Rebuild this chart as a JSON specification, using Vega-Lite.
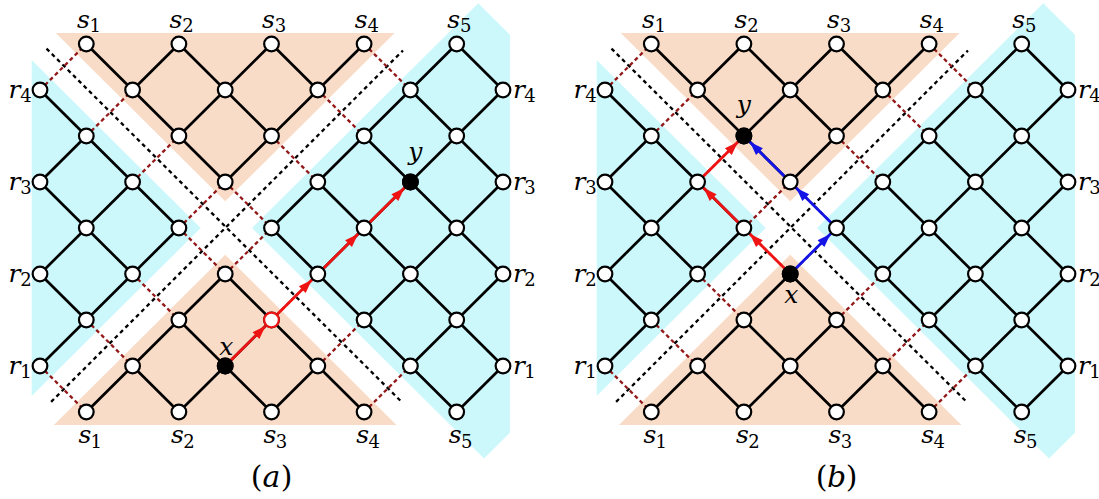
{
  "$schema": "https://vega.github.io/schema/vega-lite/v6.json",
  "padding": 0,
  "spacing": 31,
  "bounds": "flush",
  "background": "white",
  "config": {"view": {"stroke": null}, "axis": {"disable": true}},
  "datasets": {
    "regions": [
      {"region": "top", "zone": "peach", "c": 0.34, "r": -0.24, "r2": -0.24},
      {"region": "top", "zone": "peach", "c": 4, "r": -0.24, "r2": 3.42},
      {"region": "top", "zone": "peach", "c": 7.66, "r": -0.24, "r2": -0.24},
      {"region": "bottom", "zone": "peach", "c": 0.3, "r": 8.28, "r2": 8.28},
      {"region": "bottom", "zone": "peach", "c": 4, "r": 4.58, "r2": 8.28},
      {"region": "bottom", "zone": "peach", "c": 7.7, "r": 8.28, "r2": 8.28},
      {"region": "left", "zone": "cyan", "c": -0.18, "r": 0.35, "r2": 7.65},
      {"region": "left", "zone": "cyan", "c": 3.47, "r": 4, "r2": 4},
      {"region": "right", "zone": "cyan", "c": 4.58, "r": 4, "r2": 4},
      {"region": "right", "zone": "cyan", "c": 9.465, "r": -0.885, "r2": 8.885},
      {"region": "right", "zone": "cyan", "c": 9.59, "r": -0.76, "r2": 9.01},
      {"region": "right", "zone": "cyan", "c": 10.15, "r": -0.2, "r2": 8.45}
    ],
    "guides": [
      {"c": 0.14, "r": 0.1, "c2": 7.83, "r2": 7.8},
      {"c": 0.24, "r": 7.78, "c2": 7.84, "r2": 0.14}
    ],
    "edges": [
      {"kind": "dashed", "c": 0, "r": 7, "c2": 1, "r2": 8},
      {"kind": "dashed", "c": 1, "r": 6, "c2": 2, "r2": 7},
      {"kind": "dashed", "c": 2, "r": 5, "c2": 3, "r2": 6},
      {"kind": "dashed", "c": 3, "r": 4, "c2": 4, "r2": 5},
      {"kind": "dashed", "c": 4, "r": 3, "c2": 5, "r2": 4},
      {"kind": "dashed", "c": 5, "r": 2, "c2": 6, "r2": 3},
      {"kind": "dashed", "c": 6, "r": 1, "c2": 7, "r2": 2},
      {"kind": "dashed", "c": 7, "r": 0, "c2": 8, "r2": 1},
      {"kind": "dashed", "c": 0, "r": 1, "c2": 1, "r2": 0},
      {"kind": "dashed", "c": 1, "r": 2, "c2": 2, "r2": 1},
      {"kind": "dashed", "c": 2, "r": 3, "c2": 3, "r2": 2},
      {"kind": "dashed", "c": 3, "r": 4, "c2": 4, "r2": 3},
      {"kind": "dashed", "c": 4, "r": 5, "c2": 5, "r2": 4},
      {"kind": "dashed", "c": 5, "r": 6, "c2": 6, "r2": 5},
      {"kind": "dashed", "c": 6, "r": 7, "c2": 7, "r2": 6},
      {"kind": "dashed", "c": 7, "r": 8, "c2": 8, "r2": 7},
      {"kind": "solid", "c": 0, "r": 5, "c2": 1, "r2": 6},
      {"kind": "solid", "c": 2, "r": 7, "c2": 3, "r2": 8},
      {"kind": "solid", "c": 0, "r": 3, "c2": 2, "r2": 5},
      {"kind": "solid", "c": 3, "r": 6, "c2": 5, "r2": 8},
      {"kind": "solid", "c": 0, "r": 1, "c2": 3, "r2": 4},
      {"kind": "solid", "c": 4, "r": 5, "c2": 7, "r2": 8},
      {"kind": "solid", "c": 1, "r": 0, "c2": 4, "r2": 3},
      {"kind": "solid", "c": 5, "r": 4, "c2": 9, "r2": 8},
      {"kind": "solid", "c": 3, "r": 0, "c2": 5, "r2": 2},
      {"kind": "solid", "c": 6, "r": 3, "c2": 10, "r2": 7},
      {"kind": "solid", "c": 5, "r": 0, "c2": 6, "r2": 1},
      {"kind": "solid", "c": 7, "r": 2, "c2": 10, "r2": 5},
      {"kind": "solid", "c": 8, "r": 1, "c2": 10, "r2": 3},
      {"kind": "solid", "c": 9, "r": 0, "c2": 10, "r2": 1},
      {"kind": "solid", "c": 0, "r": 3, "c2": 1, "r2": 2},
      {"kind": "solid", "c": 2, "r": 1, "c2": 3, "r2": 0},
      {"kind": "solid", "c": 0, "r": 5, "c2": 2, "r2": 3},
      {"kind": "solid", "c": 3, "r": 2, "c2": 5, "r2": 0},
      {"kind": "solid", "c": 0, "r": 7, "c2": 3, "r2": 4},
      {"kind": "solid", "c": 4, "r": 3, "c2": 7, "r2": 0},
      {"kind": "solid", "c": 1, "r": 8, "c2": 4, "r2": 5},
      {"kind": "solid", "c": 5, "r": 4, "c2": 9, "r2": 0},
      {"kind": "solid", "c": 3, "r": 8, "c2": 5, "r2": 6},
      {"kind": "solid", "c": 6, "r": 5, "c2": 10, "r2": 1},
      {"kind": "solid", "c": 5, "r": 8, "c2": 6, "r2": 7},
      {"kind": "solid", "c": 7, "r": 6, "c2": 10, "r2": 3},
      {"kind": "solid", "c": 8, "r": 7, "c2": 10, "r2": 5},
      {"kind": "solid", "c": 9, "r": 8, "c2": 10, "r2": 7}
    ],
    "nodes": [
      {"c": 1, "r": 0}, {"c": 3, "r": 0}, {"c": 5, "r": 0}, {"c": 7, "r": 0}, {"c": 9, "r": 0},
      {"c": 0, "r": 1}, {"c": 2, "r": 1}, {"c": 4, "r": 1}, {"c": 6, "r": 1}, {"c": 8, "r": 1}, {"c": 10, "r": 1},
      {"c": 1, "r": 2}, {"c": 3, "r": 2}, {"c": 5, "r": 2}, {"c": 7, "r": 2}, {"c": 9, "r": 2},
      {"c": 0, "r": 3}, {"c": 2, "r": 3}, {"c": 4, "r": 3}, {"c": 6, "r": 3}, {"c": 8, "r": 3}, {"c": 10, "r": 3},
      {"c": 1, "r": 4}, {"c": 3, "r": 4}, {"c": 5, "r": 4}, {"c": 7, "r": 4}, {"c": 9, "r": 4},
      {"c": 0, "r": 5}, {"c": 2, "r": 5}, {"c": 4, "r": 5}, {"c": 6, "r": 5}, {"c": 8, "r": 5}, {"c": 10, "r": 5},
      {"c": 1, "r": 6}, {"c": 3, "r": 6}, {"c": 5, "r": 6}, {"c": 7, "r": 6}, {"c": 9, "r": 6},
      {"c": 0, "r": 7}, {"c": 2, "r": 7}, {"c": 4, "r": 7}, {"c": 6, "r": 7}, {"c": 8, "r": 7}, {"c": 10, "r": 7},
      {"c": 1, "r": 8}, {"c": 3, "r": 8}, {"c": 5, "r": 8}, {"c": 7, "r": 8}, {"c": 9, "r": 8}
    ],
    "slabels": [
      {"side": "top", "letter": "s", "sub": "1", "c": 1, "r": 0},
      {"side": "top", "letter": "s", "sub": "2", "c": 3, "r": 0},
      {"side": "top", "letter": "s", "sub": "3", "c": 5, "r": 0},
      {"side": "top", "letter": "s", "sub": "4", "c": 7, "r": 0},
      {"side": "top", "letter": "s", "sub": "5", "c": 9, "r": 0},
      {"side": "bottom", "letter": "s", "sub": "1", "c": 1, "r": 8},
      {"side": "bottom", "letter": "s", "sub": "2", "c": 3, "r": 8},
      {"side": "bottom", "letter": "s", "sub": "3", "c": 5, "r": 8},
      {"side": "bottom", "letter": "s", "sub": "4", "c": 7, "r": 8},
      {"side": "bottom", "letter": "s", "sub": "5", "c": 9, "r": 8},
      {"side": "left", "letter": "r", "sub": "4", "c": 0, "r": 1},
      {"side": "left", "letter": "r", "sub": "3", "c": 0, "r": 3},
      {"side": "left", "letter": "r", "sub": "2", "c": 0, "r": 5},
      {"side": "left", "letter": "r", "sub": "1", "c": 0, "r": 7},
      {"side": "right", "letter": "r", "sub": "4", "c": 10, "r": 1},
      {"side": "right", "letter": "r", "sub": "3", "c": 10, "r": 3},
      {"side": "right", "letter": "r", "sub": "2", "c": 10, "r": 5},
      {"side": "right", "letter": "r", "sub": "1", "c": 10, "r": 7}
    ],
    "paths": [
      {"panel": "a", "color": "red", "dir": "ur", "c": 4, "r": 7, "c2": 5, "r2": 6},
      {"panel": "a", "color": "red", "dir": "ur", "c": 5, "r": 6, "c2": 6, "r2": 5},
      {"panel": "a", "color": "red", "dir": "ur", "c": 6, "r": 5, "c2": 7, "r2": 4},
      {"panel": "a", "color": "red", "dir": "ur", "c": 7, "r": 4, "c2": 8, "r2": 3},
      {"panel": "b", "color": "red", "dir": "ul", "c": 4, "r": 5, "c2": 3, "r2": 4},
      {"panel": "b", "color": "red", "dir": "ul", "c": 3, "r": 4, "c2": 2, "r2": 3},
      {"panel": "b", "color": "red", "dir": "ur", "c": 2, "r": 3, "c2": 3, "r2": 2},
      {"panel": "b", "color": "blue", "dir": "ur", "c": 4, "r": 5, "c2": 5, "r2": 4},
      {"panel": "b", "color": "blue", "dir": "ul", "c": 5, "r": 4, "c2": 4, "r2": 3},
      {"panel": "b", "color": "blue", "dir": "ul", "c": 4, "r": 3, "c2": 3, "r2": 2}
    ],
    "special": [
      {"panel": "a", "kind": "black", "c": 4, "r": 7},
      {"panel": "a", "kind": "black", "c": 8, "r": 3},
      {"panel": "a", "kind": "ring", "c": 5, "r": 6},
      {"panel": "b", "kind": "black", "c": 4, "r": 5},
      {"panel": "b", "kind": "black", "c": 3, "r": 2}
    ],
    "names": [
      {"panel": "a", "text": "x", "c": 4, "r": 7},
      {"panel": "a", "text": "y", "c": 8, "r": 3},
      {"panel": "b", "text": "x", "c": 4, "r": 5},
      {"panel": "b", "text": "y", "c": 3, "r": 2}
    ],
    "captions": [
      {"panel": "a", "open": "(", "letter": "a", "close": ")", "c": 5, "r": 8},
      {"panel": "b", "open": "(", "letter": "b", "close": ")", "c": 5, "r": 8}
    ]
  },
  "hconcat": [
    {
      "width": 534, "height": 499,
      "encoding": {
        "x": {"field": "c", "type": "quantitative", "axis": null, "scale": {"domain": [-0.86393, 10.66955], "nice": false, "zero": false}},
        "y": {"field": "r", "type": "quantitative", "axis": null, "scale": {"domain": [-0.95652, 9.8913], "nice": false, "zero": false, "reverse": true}}
      },
      "layer": [
        {"data": {"name": "regions"}, "transform": [{"filter": "datum.zone === 'peach'"}],
         "mark": {"type": "area", "interpolate": "linear", "color": "#f9dcc8", "opacity": 1},
         "encoding": {"y": {"field": "r", "type": "quantitative", "axis": null, "stack": null, "scale": {"domain": [-0.95652, 9.8913], "nice": false, "zero": false, "reverse": true}}, "y2": {"field": "r2"}, "detail": {"field": "region", "type": "nominal"}}},
        {"data": {"name": "regions"}, "transform": [{"filter": "datum.zone === 'cyan'"}],
         "mark": {"type": "area", "interpolate": "linear", "color": "#cdf8fb", "opacity": 1},
         "encoding": {"y": {"field": "r", "type": "quantitative", "axis": null, "stack": null, "scale": {"domain": [-0.95652, 9.8913], "nice": false, "zero": false, "reverse": true}}, "y2": {"field": "r2"}, "detail": {"field": "region", "type": "nominal"}}},
        {"data": {"name": "guides"}, "mark": {"type": "rule", "color": "#000000", "strokeWidth": 2.3, "strokeDash": [4, 3.5]},
         "encoding": {"x2": {"field": "c2"}, "y2": {"field": "r2"}}},
        {"data": {"name": "edges"}, "transform": [{"filter": "datum.kind === 'dashed'"}],
         "mark": {"type": "rule", "color": "#931818", "strokeWidth": 2.3, "strokeDash": [4, 3]},
         "encoding": {"x2": {"field": "c2"}, "y2": {"field": "r2"}}},
        {"data": {"name": "edges"}, "transform": [{"filter": "datum.kind === 'solid'"}],
         "mark": {"type": "rule", "color": "#000000", "strokeWidth": 2.7},
         "encoding": {"x2": {"field": "c2"}, "y2": {"field": "r2"}}},
        {"data": {"name": "paths"}, "transform": [{"filter": "datum.panel === 'a'"}],
         "mark": {"type": "rule", "strokeWidth": 2.8},
         "encoding": {"x2": {"field": "c2"}, "y2": {"field": "r2"}, "color": {"field": "color", "type": "nominal", "legend": null, "scale": {"domain": ["red", "blue"], "range": ["#ee1414", "#1414e6"]}}}},
        {"data": {"name": "nodes"},
         "mark": {"type": "point", "shape": "circle", "size": 215, "filled": true, "fill": "#ffffff", "stroke": "#000000", "strokeWidth": 2.2, "opacity": 1}},
        {"data": {"name": "special"}, "transform": [{"filter": "datum.panel === 'a' && datum.kind === 'black'"}],
         "mark": {"type": "point", "shape": "circle", "size": 215, "filled": true, "fill": "#000000", "stroke": "#000000", "strokeWidth": 2.2, "opacity": 1}},
        {"data": {"name": "special"}, "transform": [{"filter": "datum.panel === 'a' && datum.kind === 'ring'"}],
         "mark": {"type": "point", "shape": "circle", "size": 215, "filled": true, "fill": "#ffffff", "stroke": "#ee1414", "strokeWidth": 2.2, "opacity": 1}},
        {"data": {"name": "paths"}, "transform": [{"filter": "datum.panel === 'a' && datum.dir === 'ur'"}],
         "mark": {"type": "point", "shape": "M0,-1L-0.72,1L0.72,1Z", "size": 180, "angle": 45, "xOffset": -10.8, "yOffset": 10.8, "filled": true, "opacity": 1, "strokeWidth": 0},
         "encoding": {
           "x": {"field": "c2", "type": "quantitative", "axis": null, "scale": {"domain": [-0.86393, 10.66955], "nice": false, "zero": false}},
           "y": {"field": "r2", "type": "quantitative", "axis": null, "scale": {"domain": [-0.95652, 9.8913], "nice": false, "zero": false, "reverse": true}},
           "color": {"field": "color", "type": "nominal", "legend": null, "scale": {"domain": ["red", "blue"], "range": ["#ee1414", "#1414e6"]}}}},
        {"data": {"name": "slabels"}, "transform": [{"filter": "datum.side === 'top'"}],
         "mark": {"type": "text", "font": "DejaVu Serif", "fontStyle": "italic", "fontSize": 25, "align": "center", "baseline": "alphabetic", "dx": -3, "dy": -16, "color": "#000000"},
         "encoding": {"text": {"field": "letter"}}},
        {"data": {"name": "slabels"}, "transform": [{"filter": "datum.side === 'top'"}],
         "mark": {"type": "text", "font": "DejaVu Serif", "fontSize": 18, "align": "center", "baseline": "alphabetic", "dx": 9, "dy": -12, "color": "#000000"},
         "encoding": {"text": {"field": "sub"}}},
        {"data": {"name": "slabels"}, "transform": [{"filter": "datum.side === 'bottom'"}],
         "mark": {"type": "text", "font": "DejaVu Serif", "fontStyle": "italic", "fontSize": 25, "align": "center", "baseline": "alphabetic", "dx": -1.5, "dy": 31, "color": "#000000"},
         "encoding": {"text": {"field": "letter"}}},
        {"data": {"name": "slabels"}, "transform": [{"filter": "datum.side === 'bottom'"}],
         "mark": {"type": "text", "font": "DejaVu Serif", "fontSize": 18, "align": "center", "baseline": "alphabetic", "dx": 10, "dy": 36, "color": "#000000"},
         "encoding": {"text": {"field": "sub"}}},
        {"data": {"name": "slabels"}, "transform": [{"filter": "datum.side === 'left'"}],
         "mark": {"type": "text", "font": "DejaVu Serif", "fontStyle": "italic", "fontSize": 25, "align": "center", "baseline": "alphabetic", "dx": -25.5, "dy": 8, "color": "#000000"},
         "encoding": {"text": {"field": "letter"}}},
        {"data": {"name": "slabels"}, "transform": [{"filter": "datum.side === 'left'"}],
         "mark": {"type": "text", "font": "DejaVu Serif", "fontSize": 18, "align": "center", "baseline": "alphabetic", "dx": -14, "dy": 12, "color": "#000000"},
         "encoding": {"text": {"field": "sub"}}},
        {"data": {"name": "slabels"}, "transform": [{"filter": "datum.side === 'right'"}],
         "mark": {"type": "text", "font": "DejaVu Serif", "fontStyle": "italic", "fontSize": 25, "align": "center", "baseline": "alphabetic", "dx": 16, "dy": 8, "color": "#000000"},
         "encoding": {"text": {"field": "letter"}}},
        {"data": {"name": "slabels"}, "transform": [{"filter": "datum.side === 'right'"}],
         "mark": {"type": "text", "font": "DejaVu Serif", "fontSize": 18, "align": "center", "baseline": "alphabetic", "dx": 27, "dy": 12, "color": "#000000"},
         "encoding": {"text": {"field": "sub"}}},
        {"data": {"name": "names"}, "transform": [{"filter": "datum.panel === 'a' && datum.text === 'x'"}],
         "mark": {"type": "text", "font": "DejaVu Serif", "fontStyle": "italic", "fontSize": 25, "align": "center", "baseline": "alphabetic", "dx": 1, "dy": -11, "color": "#000000"},
         "encoding": {"text": {"field": "text"}}},
        {"data": {"name": "names"}, "transform": [{"filter": "datum.panel === 'a' && datum.text === 'y'"}],
         "mark": {"type": "text", "font": "DejaVu Serif", "fontStyle": "italic", "fontSize": 25, "align": "center", "baseline": "alphabetic", "dx": 5, "dy": -22, "color": "#000000"},
         "encoding": {"text": {"field": "text"}}},
        {"data": {"name": "captions"}, "transform": [{"filter": "datum.panel === 'a'"}],
         "mark": {"type": "text", "font": "DejaVu Serif", "fontSize": 30, "align": "center", "baseline": "alphabetic", "dx": -15, "dy": 75, "color": "#000000"},
         "encoding": {"text": {"field": "open"}}},
        {"data": {"name": "captions"}, "transform": [{"filter": "datum.panel === 'a'"}],
         "mark": {"type": "text", "font": "DejaVu Serif", "fontStyle": "italic", "fontSize": 30, "align": "center", "baseline": "alphabetic", "dx": 0, "dy": 75, "color": "#000000"},
         "encoding": {"text": {"field": "letter"}}},
        {"data": {"name": "captions"}, "transform": [{"filter": "datum.panel === 'a'"}],
         "mark": {"type": "text", "font": "DejaVu Serif", "fontSize": 30, "align": "center", "baseline": "alphabetic", "dx": 15, "dy": 75, "color": "#000000"},
         "encoding": {"text": {"field": "close"}}}
      ]
    },
    {
      "width": 534, "height": 499,
      "encoding": {
        "x": {"field": "c", "type": "quantitative", "axis": null, "scale": {"domain": [-0.86393, 10.66955], "nice": false, "zero": false}},
        "y": {"field": "r", "type": "quantitative", "axis": null, "scale": {"domain": [-0.95652, 9.8913], "nice": false, "zero": false, "reverse": true}}
      },
      "layer": [
        {"data": {"name": "regions"}, "transform": [{"filter": "datum.zone === 'peach'"}],
         "mark": {"type": "area", "interpolate": "linear", "color": "#f9dcc8", "opacity": 1},
         "encoding": {"y": {"field": "r", "type": "quantitative", "axis": null, "stack": null, "scale": {"domain": [-0.95652, 9.8913], "nice": false, "zero": false, "reverse": true}}, "y2": {"field": "r2"}, "detail": {"field": "region", "type": "nominal"}}},
        {"data": {"name": "regions"}, "transform": [{"filter": "datum.zone === 'cyan'"}],
         "mark": {"type": "area", "interpolate": "linear", "color": "#cdf8fb", "opacity": 1},
         "encoding": {"y": {"field": "r", "type": "quantitative", "axis": null, "stack": null, "scale": {"domain": [-0.95652, 9.8913], "nice": false, "zero": false, "reverse": true}}, "y2": {"field": "r2"}, "detail": {"field": "region", "type": "nominal"}}},
        {"data": {"name": "guides"}, "mark": {"type": "rule", "color": "#000000", "strokeWidth": 2.3, "strokeDash": [4, 3.5]},
         "encoding": {"x2": {"field": "c2"}, "y2": {"field": "r2"}}},
        {"data": {"name": "edges"}, "transform": [{"filter": "datum.kind === 'dashed'"}],
         "mark": {"type": "rule", "color": "#931818", "strokeWidth": 2.3, "strokeDash": [4, 3]},
         "encoding": {"x2": {"field": "c2"}, "y2": {"field": "r2"}}},
        {"data": {"name": "edges"}, "transform": [{"filter": "datum.kind === 'solid'"}],
         "mark": {"type": "rule", "color": "#000000", "strokeWidth": 2.7},
         "encoding": {"x2": {"field": "c2"}, "y2": {"field": "r2"}}},
        {"data": {"name": "paths"}, "transform": [{"filter": "datum.panel === 'b'"}],
         "mark": {"type": "rule", "strokeWidth": 2.8},
         "encoding": {"x2": {"field": "c2"}, "y2": {"field": "r2"}, "color": {"field": "color", "type": "nominal", "legend": null, "scale": {"domain": ["red", "blue"], "range": ["#ee1414", "#1414e6"]}}}},
        {"data": {"name": "nodes"},
         "mark": {"type": "point", "shape": "circle", "size": 215, "filled": true, "fill": "#ffffff", "stroke": "#000000", "strokeWidth": 2.2, "opacity": 1}},
        {"data": {"name": "special"}, "transform": [{"filter": "datum.panel === 'b' && datum.kind === 'black'"}],
         "mark": {"type": "point", "shape": "circle", "size": 215, "filled": true, "fill": "#000000", "stroke": "#000000", "strokeWidth": 2.2, "opacity": 1}},
        {"data": {"name": "paths"}, "transform": [{"filter": "datum.panel === 'b' && datum.dir === 'ur'"}],
         "mark": {"type": "point", "shape": "M0,-1L-0.72,1L0.72,1Z", "size": 180, "angle": 45, "xOffset": -10.8, "yOffset": 10.8, "filled": true, "opacity": 1, "strokeWidth": 0},
         "encoding": {
           "x": {"field": "c2", "type": "quantitative", "axis": null, "scale": {"domain": [-0.86393, 10.66955], "nice": false, "zero": false}},
           "y": {"field": "r2", "type": "quantitative", "axis": null, "scale": {"domain": [-0.95652, 9.8913], "nice": false, "zero": false, "reverse": true}},
           "color": {"field": "color", "type": "nominal", "legend": null, "scale": {"domain": ["red", "blue"], "range": ["#ee1414", "#1414e6"]}}}},
        {"data": {"name": "paths"}, "transform": [{"filter": "datum.panel === 'b' && datum.dir === 'ul'"}],
         "mark": {"type": "point", "shape": "M0,-1L-0.72,1L0.72,1Z", "size": 180, "angle": -45, "xOffset": 10.8, "yOffset": 10.8, "filled": true, "opacity": 1, "strokeWidth": 0},
         "encoding": {
           "x": {"field": "c2", "type": "quantitative", "axis": null, "scale": {"domain": [-0.86393, 10.66955], "nice": false, "zero": false}},
           "y": {"field": "r2", "type": "quantitative", "axis": null, "scale": {"domain": [-0.95652, 9.8913], "nice": false, "zero": false, "reverse": true}},
           "color": {"field": "color", "type": "nominal", "legend": null, "scale": {"domain": ["red", "blue"], "range": ["#ee1414", "#1414e6"]}}}},
        {"data": {"name": "slabels"}, "transform": [{"filter": "datum.side === 'top'"}],
         "mark": {"type": "text", "font": "DejaVu Serif", "fontStyle": "italic", "fontSize": 25, "align": "center", "baseline": "alphabetic", "dx": -3, "dy": -16, "color": "#000000"},
         "encoding": {"text": {"field": "letter"}}},
        {"data": {"name": "slabels"}, "transform": [{"filter": "datum.side === 'top'"}],
         "mark": {"type": "text", "font": "DejaVu Serif", "fontSize": 18, "align": "center", "baseline": "alphabetic", "dx": 9, "dy": -12, "color": "#000000"},
         "encoding": {"text": {"field": "sub"}}},
        {"data": {"name": "slabels"}, "transform": [{"filter": "datum.side === 'bottom'"}],
         "mark": {"type": "text", "font": "DejaVu Serif", "fontStyle": "italic", "fontSize": 25, "align": "center", "baseline": "alphabetic", "dx": -1.5, "dy": 31, "color": "#000000"},
         "encoding": {"text": {"field": "letter"}}},
        {"data": {"name": "slabels"}, "transform": [{"filter": "datum.side === 'bottom'"}],
         "mark": {"type": "text", "font": "DejaVu Serif", "fontSize": 18, "align": "center", "baseline": "alphabetic", "dx": 10, "dy": 36, "color": "#000000"},
         "encoding": {"text": {"field": "sub"}}},
        {"data": {"name": "slabels"}, "transform": [{"filter": "datum.side === 'left'"}],
         "mark": {"type": "text", "font": "DejaVu Serif", "fontStyle": "italic", "fontSize": 25, "align": "center", "baseline": "alphabetic", "dx": -25.5, "dy": 8, "color": "#000000"},
         "encoding": {"text": {"field": "letter"}}},
        {"data": {"name": "slabels"}, "transform": [{"filter": "datum.side === 'left'"}],
         "mark": {"type": "text", "font": "DejaVu Serif", "fontSize": 18, "align": "center", "baseline": "alphabetic", "dx": -14, "dy": 12, "color": "#000000"},
         "encoding": {"text": {"field": "sub"}}},
        {"data": {"name": "slabels"}, "transform": [{"filter": "datum.side === 'right'"}],
         "mark": {"type": "text", "font": "DejaVu Serif", "fontStyle": "italic", "fontSize": 25, "align": "center", "baseline": "alphabetic", "dx": 16, "dy": 8, "color": "#000000"},
         "encoding": {"text": {"field": "letter"}}},
        {"data": {"name": "slabels"}, "transform": [{"filter": "datum.side === 'right'"}],
         "mark": {"type": "text", "font": "DejaVu Serif", "fontSize": 18, "align": "center", "baseline": "alphabetic", "dx": 27, "dy": 12, "color": "#000000"},
         "encoding": {"text": {"field": "sub"}}},
        {"data": {"name": "names"}, "transform": [{"filter": "datum.panel === 'b' && datum.text === 'x'"}],
         "mark": {"type": "text", "font": "DejaVu Serif", "fontStyle": "italic", "fontSize": 25, "align": "center", "baseline": "alphabetic", "dx": 1, "dy": 29, "color": "#000000"},
         "encoding": {"text": {"field": "text"}}},
        {"data": {"name": "names"}, "transform": [{"filter": "datum.panel === 'b' && datum.text === 'y'"}],
         "mark": {"type": "text", "font": "DejaVu Serif", "fontStyle": "italic", "fontSize": 25, "align": "center", "baseline": "alphabetic", "dx": 0, "dy": -23, "color": "#000000"},
         "encoding": {"text": {"field": "text"}}},
        {"data": {"name": "captions"}, "transform": [{"filter": "datum.panel === 'b'"}],
         "mark": {"type": "text", "font": "DejaVu Serif", "fontSize": 30, "align": "center", "baseline": "alphabetic", "dx": -15, "dy": 75, "color": "#000000"},
         "encoding": {"text": {"field": "open"}}},
        {"data": {"name": "captions"}, "transform": [{"filter": "datum.panel === 'b'"}],
         "mark": {"type": "text", "font": "DejaVu Serif", "fontStyle": "italic", "fontSize": 30, "align": "center", "baseline": "alphabetic", "dx": 0, "dy": 75, "color": "#000000"},
         "encoding": {"text": {"field": "letter"}}},
        {"data": {"name": "captions"}, "transform": [{"filter": "datum.panel === 'b'"}],
         "mark": {"type": "text", "font": "DejaVu Serif", "fontSize": 30, "align": "center", "baseline": "alphabetic", "dx": 15, "dy": 75, "color": "#000000"},
         "encoding": {"text": {"field": "close"}}}
      ]
    }
  ]
}
